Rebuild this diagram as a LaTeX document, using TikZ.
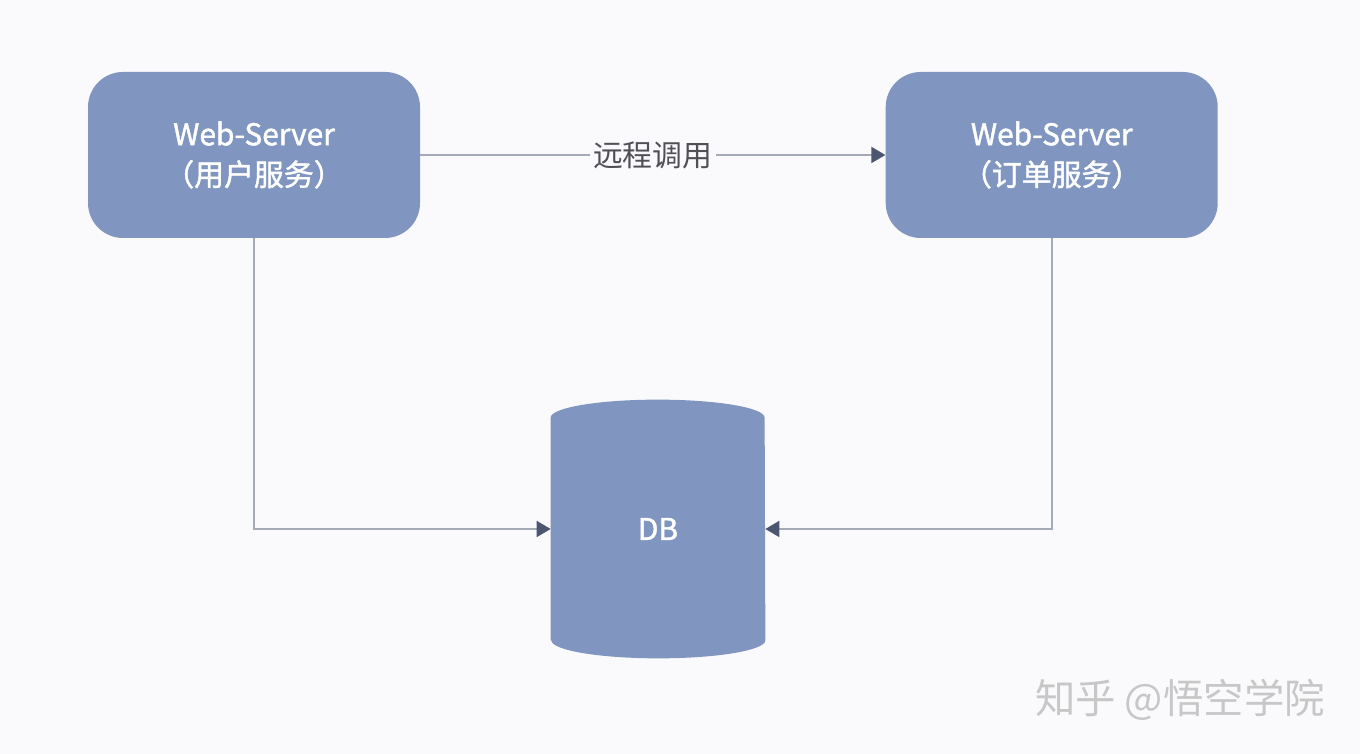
\documentclass[tikz,border=0pt]{standalone}
\usepackage{fontspec}
\setmainfont{Noto Sans CJK SC}
\newfontfamily\boxfont[FakeBold=1.5]{Noto Sans CJK SC}
\usepackage{tikz}
\usetikzlibrary{arrows.meta,positioning}
\pgfdeclarelayer{background}
\pgfsetlayers{background,main}

\definecolor{boxblue}{RGB}{128,150,192}
\definecolor{linegray}{RGB}{165,170,184}
\definecolor{tipgray}{RGB}{76,86,112}
\definecolor{labelgray}{RGB}{80,80,86}
\definecolor{bggray}{RGB}{250,250,252}

\begin{document}
\begin{tikzpicture}[
  server/.style={fill=boxblue, rounded corners=0.7cm, minimum width=6.64cm, minimum height=3.32cm,
    align=center, text=white, font=\boxfont\fontsize{17}{23}\selectfont},
  dbbody/.style={minimum width=4.28cm, minimum height=4.44cm, text=white,
    font=\boxfont\fontsize{17}{23}\selectfont},
  link/.style={draw=linegray, line width=1.1pt, -{Triangle[length=2.8mm, width=3.2mm, color=tipgray]}},
  lbl/.style={fill=bggray, text=labelgray, inner sep=2pt, font=\fontsize{17}{23}\selectfont}
]
\useasboundingbox (0,0) rectangle (27.2,15.08);

\node[server] (user) at (5.08,11.98) {Web-Server\\（用户服务）};
\node[server, right=9.3cm of user] (order) {Web-Server\\（订单服务）};
\node[dbbody] (db) at (13.16,4.5) {DB};
\begin{pgfonlayer}{background}
  \fill[bggray] (0,0) rectangle (27.2,15.08);
  \fill[boxblue] (db.south west) -- (db.north west)
    arc[start angle=180, end angle=0, x radius=2.14cm, y radius=0.36cm]
    -- (db.south east)
    arc[start angle=0, end angle=-180, x radius=2.14cm, y radius=0.36cm] -- cycle;
\end{pgfonlayer}

\draw[link] (user.east) -- node[lbl] {远程调用} (order.west);
\draw[link] (user.south) |- (db.west);
\draw[link] (order.south) |- (db.east);

% watermark
\node[text=black!22, font=\fontsize{23}{28}\selectfont] (mark) at (23.6,1.08) {知乎 @悟空学院};
\end{tikzpicture}
\end{document}
